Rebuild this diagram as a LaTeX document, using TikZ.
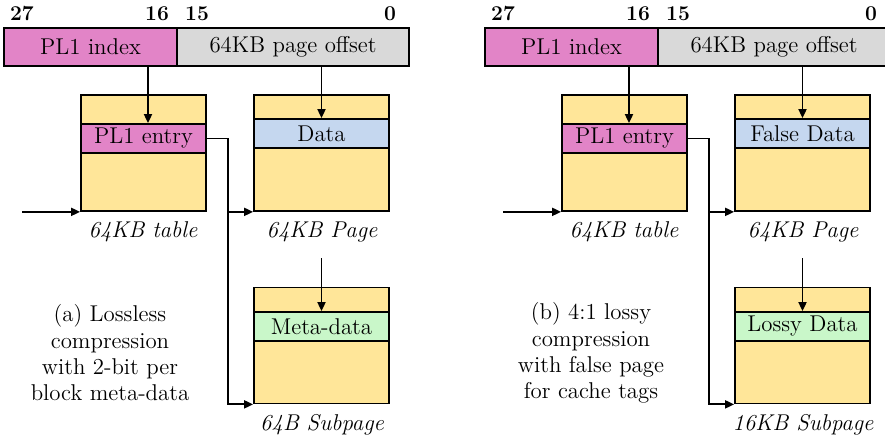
\documentclass[tikz,border=0pt]{standalone}
\usepackage{tikz}
\usetikzlibrary{arrows.meta}
\definecolor{pinkfld}{HTML}{E284C7}
\definecolor{grayfld}{HTML}{D9D9D9}
\definecolor{boxyellow}{HTML}{FFE699}
\definecolor{databand}{HTML}{C5D7EF}
\definecolor{metaband}{HTML}{C9F7C9}

\begin{document}
\begin{tikzpicture}[x=0.02cm, y=-0.02cm, font=\fontsize{13}{15}\selectfont,
			field_style/.style={draw=black, line width=1pt, minimum height=0.76cm, inner sep=0pt},
			box_style/.style={draw=black, line width=1pt, fill=boxyellow, minimum height=2.32cm, inner sep=0pt},
			band_style/.style={draw=black, line width=1pt, minimum height=0.58cm, inner sep=0pt},
			label_style/.style={font=\fontsize{13}{15}\selectfont\itshape},
			bit_style/.style={font=\fontsize{12}{15}\selectfont\bfseries},
			edge_style/.style={draw=black, line width=1pt, -{Triangle[length=0.18cm,width=0.16cm]}}]
			\useasboundingbox (0,0) rectangle (885,439);
			\foreach \p/\dx/\dat/\low/\sub/\cap in {a/0/Data/Meta-data/64B/{(a) Lossless\\compression\\with 2-bit per\\block meta-data},
					b/481/False Data/Lossy Data/16KB/{(b) 4:1 lossy\\compression\\with false page\\for cache tags}}{
			\begin{scope}[xshift=\dx*0.02cm]
			% address bits
			\node[field_style, fill=pinkfld, minimum width=3.46cm] (idx\p) at (90.5,47) {PL1 index};
			\node[field_style, fill=grayfld, minimum width=4.64cm] (off\p) at (293,47) {64KB page offset};
			\node[bit_style] (b27\p) at (22,14) {27};
			\node[bit_style] (b16\p) at (157,14) {16};
			\node[bit_style] (b15\p) at (197,14) {15};
			\node[bit_style] (b0\p) at (390,14) {0};
			% table, page and subpage
			\node[box_style, minimum width=2.5cm] (tab\p) at (143.5,153) {};
			\node[band_style, fill=pinkfld, minimum width=2.5cm] (ent\p) at (143.5,138.5) {PL1 entry};
			\node[box_style, minimum width=2.7cm] (pg\p) at (321.5,153) {};
			\node[band_style, fill=databand, minimum width=2.7cm] (dat\p) at (321.5,133.5) {\dat};
			\node[box_style, minimum width=2.7cm] (sub\p) at (321.5,345.5) {};
			\node[band_style, fill=metaband, minimum width=2.7cm] (low\p) at (321.5,326.5) {\low};
			\node[label_style] (tabl\p) at (143,232) {64KB table};
			\node[label_style] (pgl\p) at (322,232) {64KB Page};
			\node[label_style] (subl\p) at (322,425) {\sub{} Subpage};
			\node[align=center] (cap\p) at (110,353) {\cap};
			\coordinate (in\p) at (22,211);
			\coordinate (jn\p) at (228,138.5);
			\coordinate (top\p) at (322,258);
			% connectors
			\draw[edge_style] ([xshift=0.09cm]idx\p.south -| ent\p.north) -- ([xshift=0.09cm]ent\p.north);
			\draw[edge_style] (off\p.south -| dat\p.north) -- (dat\p.north);
			\draw[edge_style] (top\p -| low\p.north) -- (low\p.north);
			\draw[edge_style] (in\p |- tab\p.south west) -- (tab\p.south west);
			\draw[edge_style] (ent\p.east) -- (jn\p) |- (sub\p.south west);
			\draw[edge_style] (jn\p |- pg\p.south west) -- (pg\p.south west);
			\end{scope}
			}
			\end{tikzpicture}
\end{document}
